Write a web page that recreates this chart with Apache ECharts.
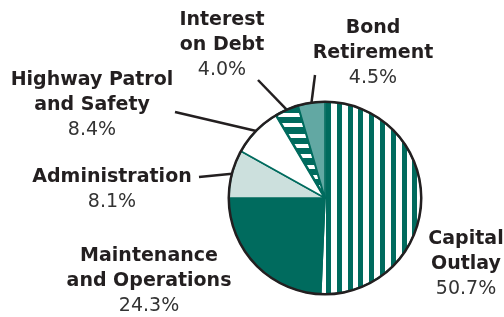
<!DOCTYPE html>
<html>
<head>
<meta charset="utf-8">
<script src="https://cdn.jsdelivr.net/npm/echarts@6/dist/echarts.min.js"></script>
<style>
html, body { margin: 0; background: #fff; }
#echart { width: 504px; height: 317px; }
</style>
</head>
<body>
<div id="echart"></div>
<script>
// slices, clockwise from 12 o'clock
const names = ['Capital\nOutlay', 'Maintenance\nand Operations', 'Administration', 'Highway Patrol\nand Safety', 'Interest\non Debt', 'Bond\nRetirement'];
const shares = [50.7, 24.3, 8.1, 8.4, 4.0, 4.5];

const TEAL = '#006B5E';
const INK = '#231f20';

// where each label block sits, and where its leader line stops
const labelSpots = [[466, 264], [149, 281], [112, 190], [92, 105], [222, 45], [373, 53]];
const lineEnds = [null, null, [199, 177], [175, 112], [258, 80], [315, 75]];

// striped fills: white tile with teal bands at the given offsets
function stripes(vertical, size, bands) {
    const c = document.createElement('canvas');
    c.width = vertical ? size : 4;
    c.height = vertical ? 4 : size;
    const ctx = c.getContext('2d');
    ctx.fillStyle = '#fff';
    ctx.fillRect(0, 0, c.width, c.height);
    ctx.fillStyle = TEAL;
    bands.forEach(b => {
        if (vertical) ctx.fillRect(b[0], 0, b[1], c.height);
        else ctx.fillRect(0, b[0], c.width, b[1]);
    });
    return c;
}

const fills = [
    { image: stripes(true, 54, [[0, 5], [11, 5], [22, 5], [32, 5], [43, 5]]), repeat: 'repeat', x: 2 },
    TEAL,
    '#CCE0DD',
    '#FFFFFF',
    { image: stripes(false, 31, [[4, 6], [14, 7], [25, 6]]), repeat: 'repeat', y: 20 },
    '#62A8A3'
];

const chart = echarts.init(document.getElementById('echart'));

const sliceData = names.map((n, i) => ({
    name: n,
    value: shares[i],
    itemStyle: { color: fills[i], borderWidth: i === 4 ? 2.5 : 1.5 },
    labelLine: { show: lineEnds[i] != null }
}));

const option = {
    animation: false,
    series: [
        {
            type: 'pie',
            center: [325, 198],
            radius: [0, 96],
            startAngle: 90,
            clockwise: true,
            avoidLabelOverlap: false,
            silent: true,
            itemStyle: { borderColor: TEAL },
            label: {
                show: true,
                formatter: p => '{n|' + p.name + '}\n{p|' + p.value.toFixed(1) + '%}',
                rich: {
                    n: { fontFamily: 'DejaVu Sans', fontWeight: 'bold', fontSize: 19, lineHeight: 25, color: INK, align: 'center' },
                    p: { fontFamily: 'DejaVu Sans', fontSize: 19, lineHeight: 25, color: '#333', align: 'center' }
                }
            },
            labelLine: {
                show: true,
                length: 10,
                length2: 10,
                lineStyle: { color: INK, width: 2.5 }
            },
            labelLayout: function (p) {
                const i = p.dataIndex;
                const out = {
                    x: labelSpots[i][0],
                    y: labelSpots[i][1],
                    align: 'center',
                    verticalAlign: 'middle'
                };
                if (lineEnds[i] && p.labelLinePoints) {
                    out.labelLinePoints = [p.labelLinePoints[0], lineEnds[i]];
                }
                return out;
            },
            data: sliceData
        },
        {
            // black outline round the pie
            type: 'pie',
            center: [325, 198],
            radius: [95, 97.5],
            silent: true,
            label: { show: false },
            labelLine: { show: false },
            data: [{ value: 1, itemStyle: { color: INK } }]
        }
    ]
};

chart.setOption(option);
</script>
</body>
</html>
